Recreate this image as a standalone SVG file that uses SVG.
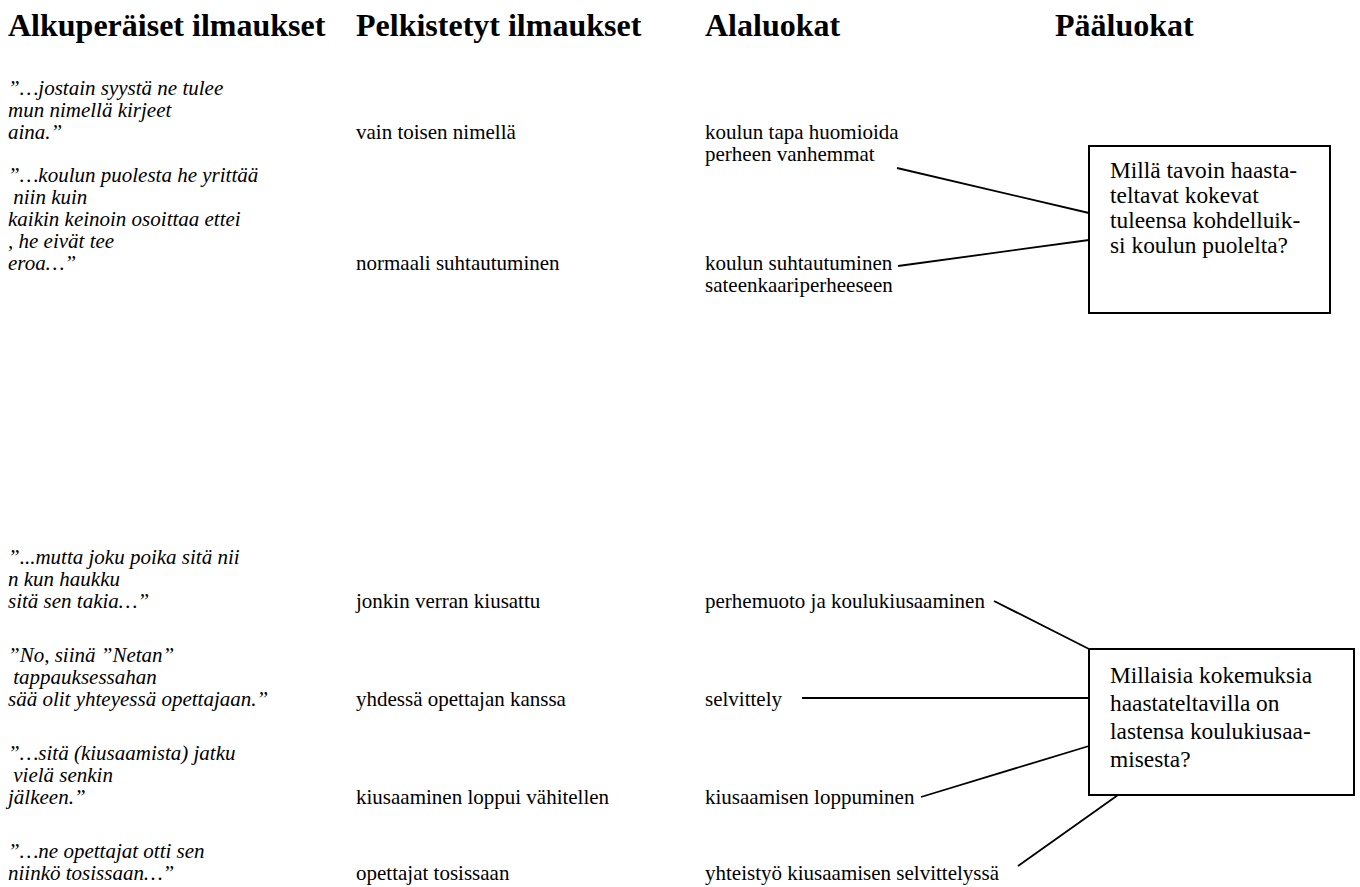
<svg xmlns="http://www.w3.org/2000/svg" width="1360" height="887" viewBox="0 0 1360 887">
<style>
text{font-family:"Liberation Serif","Times New Roman",serif;fill:#000}
.h{font-size:32px;font-weight:bold}
.q{font-size:21px;font-style:italic}
.t{font-size:21px}
.b{font-size:23.4px}
.box{fill:#fff;stroke:#000;stroke-width:2}
.c line{stroke:#000;stroke-width:1.8}
</style>
<rect width="1360" height="887" fill="#fff"/>
<g id="headers">
<text class="h" x="8" y="36">Alkuperäiset ilmaukset</text>
<text class="h" x="356" y="36">Pelkistetyt ilmaukset</text>
<text class="h" x="705" y="36">Alaluokat</text>
<text class="h" x="1055" y="36">Pääluokat</text>
</g>
<g id="quote1">
<text class="q" x="8" y="95">”…jostain syystä ne tulee</text>
<text class="q" x="8" y="117">mun nimellä kirjeet</text>
<text class="q" x="8" y="139">aina.”</text>
</g>
<g id="quote2">
<text class="q" x="8" y="182">”…koulun puolesta he yrittää</text>
<text class="q" x="8" y="204" xml:space="preserve"> niin kuin</text>
<text class="q" x="8" y="226">kaikin keinoin osoittaa ettei</text>
<text class="q" x="8" y="248">, he eivät tee</text>
<text class="q" x="8" y="270">eroa…”</text>
</g>
<g id="quote3">
<text class="q" x="8" y="564">”...mutta joku poika sitä nii</text>
<text class="q" x="8" y="586">n kun haukku</text>
<text class="q" x="8" y="608">sitä sen takia…”</text>
</g>
<g id="quote4">
<text class="q" x="8" y="662">”No, siinä ”Netan”</text>
<text class="q" x="8" y="684" xml:space="preserve"> tappauksessahan</text>
<text class="q" x="8" y="706">sää olit yhteyessä opettajaan.”</text>
</g>
<g id="quote5">
<text class="q" x="8" y="760">”…sitä (kiusaamista) jatku</text>
<text class="q" x="8" y="782" xml:space="preserve"> vielä senkin</text>
<text class="q" x="8" y="804">jälkeen.”</text>
</g>
<g id="quote6">
<text class="q" x="8" y="858">”…ne opettajat otti sen</text>
<text class="q" x="8" y="880">niinkö tosissaan…”</text>
</g>
<g id="simplified">
<text class="t" x="356" y="139">vain toisen nimellä</text>
<text class="t" x="356" y="270">normaali suhtautuminen</text>
<text class="t" x="356" y="608">jonkin verran kiusattu</text>
<text class="t" x="356" y="706">yhdessä opettajan kanssa</text>
<text class="t" x="356" y="804">kiusaaminen loppui vähitellen</text>
<text class="t" x="356" y="880">opettajat tosissaan</text>
</g>
<g id="sub1"><text class="t" x="705" y="139">koulun tapa huomioida</text><text class="t" x="705" y="161">perheen vanhemmat</text></g>
<g id="sub2"><text class="t" x="705" y="270">koulun suhtautuminen</text><text class="t" x="705" y="292">sateenkaariperheeseen</text></g>
<g id="sub3"><text class="t" x="705" y="608">perhemuoto ja koulukiusaaminen</text></g>
<g id="sub4"><text class="t" x="705" y="706">selvittely</text></g>
<g id="sub5"><text class="t" x="705" y="804">kiusaamisen loppuminen</text></g>
<g id="sub6"><text class="t" x="705" y="880">yhteistyö kiusaamisen selvittelyssä</text></g>
<g id="connectors" class="c">
<line x1="897" y1="168" x2="1089" y2="213"/>
<line x1="898" y1="266" x2="1089" y2="240"/>
<line x1="994" y1="601" x2="1089" y2="649"/>
<line x1="802" y1="698" x2="1089" y2="698"/>
<line x1="921" y1="797" x2="1089" y2="746"/>
<line x1="1018" y1="866" x2="1118" y2="795"/>
</g>
<g id="main1">
<rect class="box" x="1089" y="146" width="241" height="167"/>
<text class="b" x="1110" y="178">Millä tavoin haasta-</text>
<text class="b" x="1110" y="203">teltavat kokevat</text>
<text class="b" x="1110" y="228">tuleensa kohdelluik-</text>
<text class="b" x="1110" y="253">si koulun puolelta?</text>
</g>
<g id="main2">
<rect class="box" x="1089" y="649" width="265" height="146"/>
<text class="b" x="1110" y="683">Millaisia kokemuksia</text>
<text class="b" x="1110" y="711">haastateltavilla on</text>
<text class="b" x="1110" y="739">lastensa koulukiusaa-</text>
<text class="b" x="1110" y="767">misesta?</text>
</g>
</svg>
